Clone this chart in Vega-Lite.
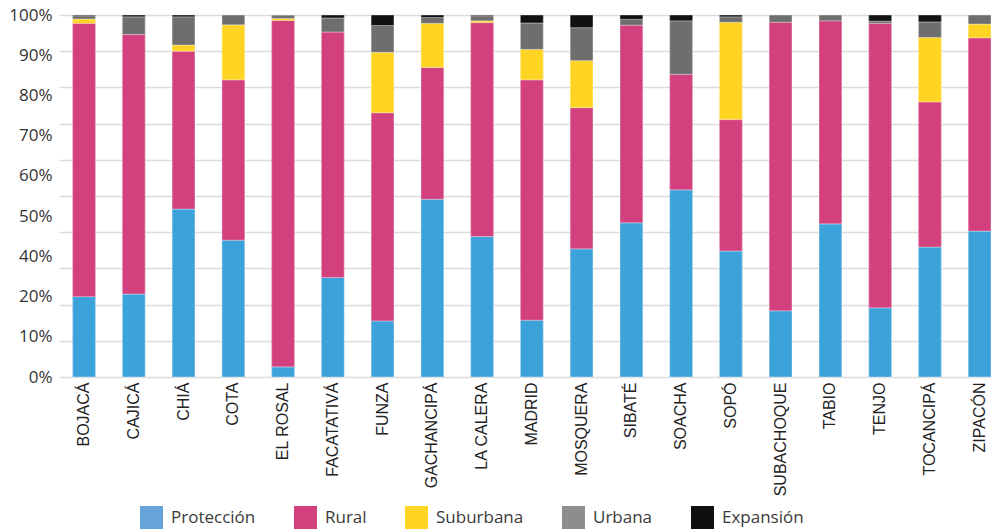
{
  "$schema": "https://vega.github.io/schema/vega-lite/v6.json",
  "autosize": "none",
  "width": 932,
  "height": 362,
  "padding": {"left": 59, "top": 15, "right": 0, "bottom": 154},
  "background": "white",
  "data": {"values": [
    {"municipio": "BOJACÁ", "tipo": "Protección", "pct": 22.2},
    {"municipio": "BOJACÁ", "tipo": "Rural", "pct": 75.5},
    {"municipio": "BOJACÁ", "tipo": "Suburbana", "pct": 1.2},
    {"municipio": "BOJACÁ", "tipo": "Urbana", "pct": 0.9},
    {"municipio": "BOJACÁ", "tipo": "Expansión", "pct": 0.2},
    {"municipio": "CAJICÁ", "tipo": "Protección", "pct": 22.9},
    {"municipio": "CAJICÁ", "tipo": "Rural", "pct": 71.7},
    {"municipio": "CAJICÁ", "tipo": "Urbana", "pct": 4.9},
    {"municipio": "CAJICÁ", "tipo": "Expansión", "pct": 0.5},
    {"municipio": "CHIÁ", "tipo": "Protección", "pct": 46.4},
    {"municipio": "CHIÁ", "tipo": "Rural", "pct": 43.6},
    {"municipio": "CHIÁ", "tipo": "Suburbana", "pct": 1.7},
    {"municipio": "CHIÁ", "tipo": "Urbana", "pct": 7.8},
    {"municipio": "CHIÁ", "tipo": "Expansión", "pct": 0.5},
    {"municipio": "COTA", "tipo": "Protección", "pct": 37.8},
    {"municipio": "COTA", "tipo": "Rural", "pct": 44.3},
    {"municipio": "COTA", "tipo": "Suburbana", "pct": 15.2},
    {"municipio": "COTA", "tipo": "Urbana", "pct": 2.7},
    {"municipio": "EL ROSAL", "tipo": "Protección", "pct": 2.8},
    {"municipio": "EL ROSAL", "tipo": "Rural", "pct": 95.7},
    {"municipio": "EL ROSAL", "tipo": "Suburbana", "pct": 0.55},
    {"municipio": "EL ROSAL", "tipo": "Urbana", "pct": 0.8},
    {"municipio": "EL ROSAL", "tipo": "Expansión", "pct": 0.15},
    {"municipio": "FACATATIVÁ", "tipo": "Protección", "pct": 27.5},
    {"municipio": "FACATATIVÁ", "tipo": "Rural", "pct": 67.8},
    {"municipio": "FACATATIVÁ", "tipo": "Urbana", "pct": 3.9},
    {"municipio": "FACATATIVÁ", "tipo": "Expansión", "pct": 0.8},
    {"municipio": "FUNZA", "tipo": "Protección", "pct": 15.5},
    {"municipio": "FUNZA", "tipo": "Rural", "pct": 57.5},
    {"municipio": "FUNZA", "tipo": "Suburbana", "pct": 16.7},
    {"municipio": "FUNZA", "tipo": "Urbana", "pct": 7.4},
    {"municipio": "FUNZA", "tipo": "Expansión", "pct": 2.9},
    {"municipio": "GACHANCIPÁ", "tipo": "Protección", "pct": 49.1},
    {"municipio": "GACHANCIPÁ", "tipo": "Rural", "pct": 36.4},
    {"municipio": "GACHANCIPÁ", "tipo": "Suburbana", "pct": 12.2},
    {"municipio": "GACHANCIPÁ", "tipo": "Urbana", "pct": 1.6},
    {"municipio": "GACHANCIPÁ", "tipo": "Expansión", "pct": 0.7},
    {"municipio": "LA CALERA", "tipo": "Protección", "pct": 38.8},
    {"municipio": "LA CALERA", "tipo": "Rural", "pct": 59.1},
    {"municipio": "LA CALERA", "tipo": "Suburbana", "pct": 0.5},
    {"municipio": "LA CALERA", "tipo": "Urbana", "pct": 1.4},
    {"municipio": "LA CALERA", "tipo": "Expansión", "pct": 0.2},
    {"municipio": "MADRID", "tipo": "Protección", "pct": 15.7},
    {"municipio": "MADRID", "tipo": "Rural", "pct": 66.4},
    {"municipio": "MADRID", "tipo": "Suburbana", "pct": 8.4},
    {"municipio": "MADRID", "tipo": "Urbana", "pct": 7.3},
    {"municipio": "MADRID", "tipo": "Expansión", "pct": 2.2},
    {"municipio": "MOSQUERA", "tipo": "Protección", "pct": 35.4},
    {"municipio": "MOSQUERA", "tipo": "Rural", "pct": 39.0},
    {"municipio": "MOSQUERA", "tipo": "Suburbana", "pct": 13.0},
    {"municipio": "MOSQUERA", "tipo": "Urbana", "pct": 9.1},
    {"municipio": "MOSQUERA", "tipo": "Expansión", "pct": 3.5},
    {"municipio": "SIBATÉ", "tipo": "Protección", "pct": 42.6},
    {"municipio": "SIBATÉ", "tipo": "Rural", "pct": 54.6},
    {"municipio": "SIBATÉ", "tipo": "Urbana", "pct": 1.6},
    {"municipio": "SIBATÉ", "tipo": "Expansión", "pct": 1.2},
    {"municipio": "SOACHA", "tipo": "Protección", "pct": 51.7},
    {"municipio": "SOACHA", "tipo": "Rural", "pct": 31.9},
    {"municipio": "SOACHA", "tipo": "Urbana", "pct": 14.8},
    {"municipio": "SOACHA", "tipo": "Expansión", "pct": 1.6},
    {"municipio": "SOPÓ", "tipo": "Protección", "pct": 34.8},
    {"municipio": "SOPÓ", "tipo": "Rural", "pct": 36.3},
    {"municipio": "SOPÓ", "tipo": "Suburbana", "pct": 26.9},
    {"municipio": "SOPÓ", "tipo": "Urbana", "pct": 1.5},
    {"municipio": "SOPÓ", "tipo": "Expansión", "pct": 0.5},
    {"municipio": "SUBACHOQUE", "tipo": "Protección", "pct": 18.3},
    {"municipio": "SUBACHOQUE", "tipo": "Rural", "pct": 79.7},
    {"municipio": "SUBACHOQUE", "tipo": "Urbana", "pct": 2.0},
    {"municipio": "TABIO", "tipo": "Protección", "pct": 42.3},
    {"municipio": "TABIO", "tipo": "Rural", "pct": 56.1},
    {"municipio": "TABIO", "tipo": "Urbana", "pct": 1.6},
    {"municipio": "TENJO", "tipo": "Protección", "pct": 19.1},
    {"municipio": "TENJO", "tipo": "Rural", "pct": 78.6},
    {"municipio": "TENJO", "tipo": "Urbana", "pct": 0.6},
    {"municipio": "TENJO", "tipo": "Expansión", "pct": 1.7},
    {"municipio": "TOCANCIPÁ", "tipo": "Protección", "pct": 35.9},
    {"municipio": "TOCANCIPÁ", "tipo": "Rural", "pct": 40.1},
    {"municipio": "TOCANCIPÁ", "tipo": "Suburbana", "pct": 17.8},
    {"municipio": "TOCANCIPÁ", "tipo": "Urbana", "pct": 4.3},
    {"municipio": "TOCANCIPÁ", "tipo": "Expansión", "pct": 1.9},
    {"municipio": "ZIPACÓN", "tipo": "Protección", "pct": 40.3},
    {"municipio": "ZIPACÓN", "tipo": "Rural", "pct": 53.4},
    {"municipio": "ZIPACÓN", "tipo": "Suburbana", "pct": 3.8},
    {"municipio": "ZIPACÓN", "tipo": "Urbana", "pct": 2.5}
  ]},
  "transform": [
    {"calculate": "indexof(['Protección','Rural','Suburbana','Urbana','Expansión'], datum.tipo)", "as": "orden"}
  ],
  "encoding": {
    "x": {
      "field": "municipio",
      "type": "nominal",
      "sort": null,
      "scale": {"type": "band", "paddingInner": 0.544, "paddingOuter": 0.1376, "align": 1},
      "axis": {
        "title": null,
        "labelAngle": -90,
        "labelAlign": "right",
        "labelBaseline": "middle",
        "labelPadding": 5,
        "labelFont": "Liberation Sans",
        "labelFontSize": 16,
        "labelColor": "#222222",
        "ticks": false,
        "domain": false,
        "grid": false
      }
    },
    "order": {"field": "orden", "type": "quantitative", "sort": "ascending"}
  },
  "layer": [
    {
      "mark": {"type": "bar"},
      "encoding": {
        "y": {
          "field": "pct",
          "type": "quantitative",
          "stack": "normalize",
          "scale": {"domain": [0, 1], "nice": false},
          "axis": {
            "orient": "left",
            "title": null,
            "values": [0, 0.1111111, 0.2222222, 0.3333333, 0.4444444, 0.5555556, 0.6666667, 0.7777778, 0.8888889, 1],
            "labelExpr": "['0%','10%','20%','40%','50%','60%','70%','80%','90%','100%'][round(datum.value*9)]",
            "labelFont": "Open Sans",
            "labelFontSize": 17,
            "labelColor": "#333333",
            "labelPadding": 7,
            "labelFlush": false,
            "ticks": false,
            "domain": false,
            "grid": false
          }
        },
        "color": {
          "field": "tipo",
          "type": "nominal",
          "sort": ["Protección", "Rural", "Suburbana", "Urbana", "Expansión"],
          "scale": {
            "domain": ["Protección", "Rural", "Suburbana", "Urbana", "Expansión"],
            "range": ["#66A3DA", "#D4407E", "#FFD422", "#8D8D8F", "#0F0F0F"]
          },
          "legend": {
            "title": null,
            "orient": "none",
            "legendX": 81,
            "legendY": 491,
            "direction": "horizontal",
            "symbolType": "square",
            "symbolSize": 529,
            "symbolStrokeWidth": 0,
            "symbolOpacity": 1,
            "labelFont": "Open Sans",
            "labelFontSize": 17,
            "labelColor": "#3a3a3a",
            "labelOffset": 8,
            "columnPadding": 38
          }
        }
      }
    },
    {
      "mark": {"type": "bar", "stroke": "#ffffff", "strokeWidth": 0.7, "strokeOpacity": 0.5},
      "encoding": {
        "y": {
          "field": "pct",
          "type": "quantitative",
          "stack": "normalize",
          "scale": {"domain": [0, 1], "nice": false},
          "axis": {
            "orient": "left",
            "title": null,
            "values": [0, 0.1, 0.2, 0.3, 0.4, 0.5, 0.6, 0.7, 0.8, 0.9, 1],
            "labels": false,
            "ticks": false,
            "domain": false,
            "grid": true,
            "gridColor": "#dcdcdc",
            "gridWidth": 1.5
          }
        },
        "color": {
          "field": "tipo",
          "type": "nominal",
          "scale": {
            "domain": ["Protección", "Rural", "Suburbana", "Urbana", "Expansión"],
            "range": ["#3BA3DA", "#D2417E", "#FFD422", "#6E6E6E", "#111111"]
          },
          "legend": null
        }
      }
    }
  ],
  "resolve": {"axis": {"y": "independent"}, "scale": {"color": "independent"}},
  "config": {"view": {"stroke": null}}
}
